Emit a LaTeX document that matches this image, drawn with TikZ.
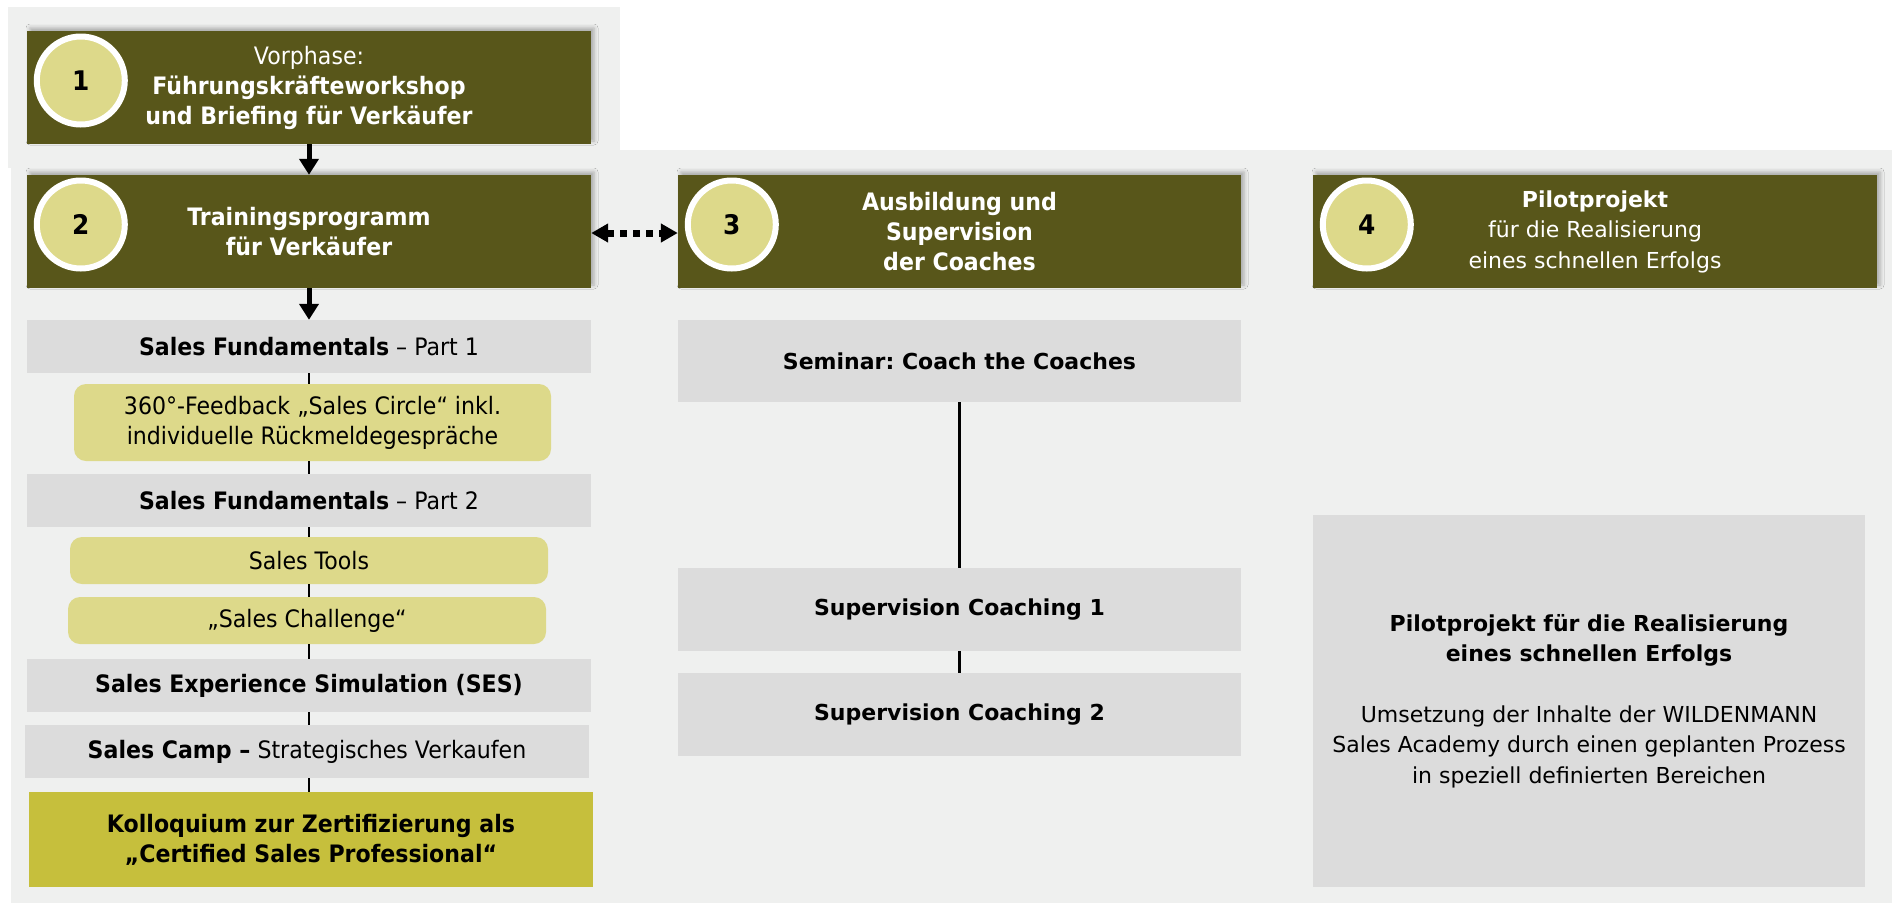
\documentclass[tikz,border=0pt]{standalone}
\usepackage{fontspec}
\setmainfont{DejaVu Sans}
\newfontfamily\tah[FakeStretch=0.92]{DejaVu Sans}
\usetikzlibrary{arrows.meta,shadows.blur}
\definecolor{oliv}{RGB}{88,86,26}
\definecolor{circ}{RGB}{221,217,138}
\definecolor{ylw}{RGB}{221,217,138}
\definecolor{kollc}{RGB}{198,191,60}
\definecolor{gbox}{RGB}{220,220,220}
\definecolor{panel}{RGB}{239,240,239}
\newcommand\ftah{\tah\fontsize{24}{30}\selectfont}
\newcommand\fver{\fontsize{22}{30.5}\selectfont}
\newcommand\fnum{\tah\bfseries\fontsize{27}{30}\selectfont}
\frenchspacing
\begin{document}
\begin{tikzpicture}[x=1pt,y=-1pt,
  head/.style={fill=oliv, text=white, minimum width=564pt, minimum height=113pt, inner sep=0pt, align=center,
    blur shadow={shadow xshift=3pt, shadow yshift=3pt, shadow blur radius=4pt, shadow opacity=30}},
  num/.style={circle, fill=circ, draw=white, line width=6pt, minimum size=88pt, inner sep=0pt, text=black, font=\fnum},
  gb/.style={fill=gbox, inner sep=0pt, align=center},
  yb/.style={fill=ylw, rounded corners=12pt, inner sep=0pt, align=center, font=\ftah},
  arr/.style={line width=5pt, -{Triangle[width=19pt,length=16pt]}},
  conn/.style={line width=2.5pt},
  darr/.style={line width=7pt, dash pattern=on 7pt off 6pt, {Triangle[width=18pt,length=17pt]}-{Triangle[width=18pt,length=17pt]}}
]
\useasboundingbox (0,0) rectangle (1892,903);
\fill[panel] (8,7) rectangle (620,168);
\fill[panel] (11,150) rectangle (1892,903);

% header boxes
\node[head, font=\ftah] (b1) at (309,87.5) {Vorphase:\\\textbf{Führungskräfteworkshop}\\\textbf{und Briefing für Verkäufer}};
\node[head, font=\ftah] (b2) at (309,231.5) {\textbf{Trainingsprogramm}\\\textbf{für Verkäufer}};
\node[head, font=\ftah, minimum width=563pt] (b3) at (959.5,231.5) {\textbf{Ausbildung und}\\\textbf{Supervision}\\\textbf{der Coaches}};
\node[head, font=\fver] (b4) at (1595,231.5) {\textbf{Pilotprojekt}\\für die Realisierung\\eines schnellen Erfolgs};

\node[num] (c1) at ([xshift=54pt,yshift=7pt]b1.west) {1};
\node[num] (c2) at ([xshift=54pt,yshift=7pt]b2.west) {2};
\node[num] (c3) at ([xshift=54pt,yshift=7pt]b3.west) {3};
\node[num] (c4) at ([xshift=54pt,yshift=7pt]b4.west) {4};

% left column
\node[gb, font=\ftah, minimum width=564pt, minimum height=53pt] (sf1) at (309,346.5) {\textbf{Sales Fundamentals} – Part 1};
\node[yb, minimum width=477pt, minimum height=77pt] (fb) at (312.5,422.5) {360°-Feedback „Sales Circle“ inkl.\\individuelle Rückmeldegespräche};
\node[gb, font=\ftah, minimum width=564pt, minimum height=53pt] (sf2) at (309,500.5) {\textbf{Sales Fundamentals} – Part 2};
\node[yb, minimum width=478pt, minimum height=47pt] (tools) at (309,560.5) {Sales Tools};
\node[yb, minimum width=478pt, minimum height=47pt] (chal) at (307,620.5) {„Sales Challenge“};
\node[gb, font=\ftah, minimum width=564pt, minimum height=53pt] (ses) at (309,685.5) {\textbf{Sales Experience Simulation (SES)}};
\node[gb, font=\ftah, minimum width=564pt, minimum height=53pt] (camp) at (307,751.5) {\textbf{Sales Camp –} Strategisches Verkaufen};
\node[fill=kollc, inner sep=0pt, align=center, font=\ftah, minimum width=564pt, minimum height=95pt] (koll) at (311,839.5) {\textbf{Kolloquium zur Zertifizierung als}\\\textbf{„Certified Sales Professional“}};

% middle column
\node[gb, font=\fver, minimum width=563pt, minimum height=82pt] (sem) at (959.5,361) {\textbf{Seminar: Coach the Coaches}};
\node[gb, font=\fver, minimum width=563pt, minimum height=83pt] (sc1) at (959.5,609.5) {\textbf{Supervision Coaching 1}};
\node[gb, font=\fver, minimum width=563pt, minimum height=83pt] (sc2) at (959.5,714.5) {\textbf{Supervision Coaching 2}};

% right column
\node[gb, font=\fver, minimum width=552pt, minimum height=372pt] (pilot) at (1589,701) {\textbf{Pilotprojekt für die Realisierung}\\\textbf{eines schnellen Erfolgs}\\[30pt]Umsetzung der Inhalte der WILDENMANN\\Sales Academy durch einen geplanten Prozess\\in speziell definierten Bereichen};

% connectors
\draw[arr] (b1.south) -- (b2.north);
\draw[arr] (b2.south) -- (b2.south |- sf1.north);
\draw[darr] ([yshift=-1.5pt]b2.east) -- ([yshift=-1.5pt]b3.west |- b2.east);
\draw[conn] (sf1.south) -- (sf1.south |- fb.north);
\draw[conn] (sf1.south |- fb.south) -- (sf2.north);
\draw[conn] (sf2.south) -- (sf2.south |- tools.north);
\draw[conn] (tools.south) -- (tools.south |- chal.north);
\draw[conn] (tools.south |- chal.south) -- (tools.south |- ses.north);
\draw[conn] (ses.south) -- (ses.south |- camp.north);
\draw[conn] (ses.south |- camp.south) -- (ses.south |- koll.north);
\draw[conn] (sem.south) -- (sc1.north);
\draw[conn] (sc1.south) -- (sc2.north);
\end{tikzpicture}
\end{document}
